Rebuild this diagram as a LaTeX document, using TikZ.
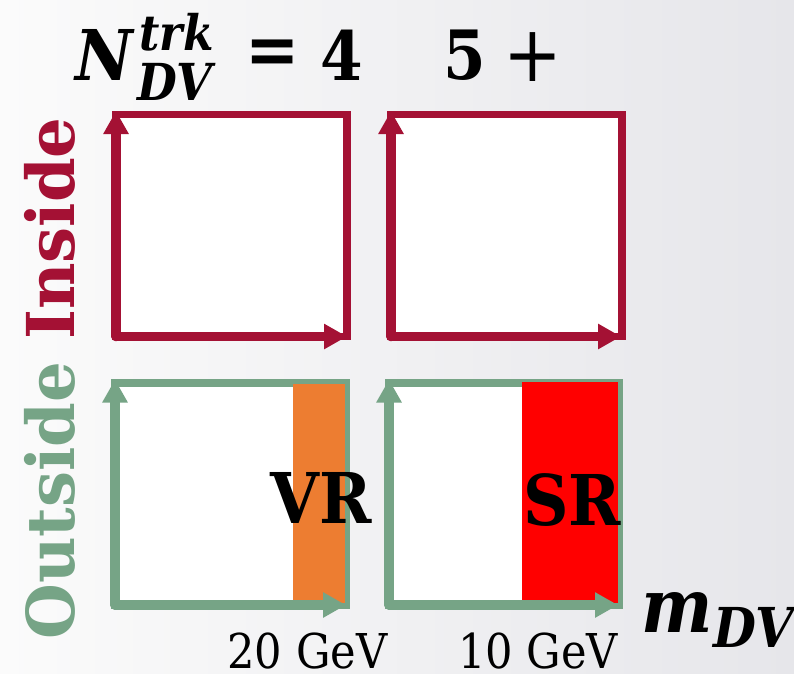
\documentclass[tikz,border=0pt]{standalone}
\usepackage{fontspec}
\usetikzlibrary{arrows.meta}
\newfontfamily\cam{DejaVu Serif}[FakeStretch=0.9]
\newfontfamily\camw{DejaVu Serif}[FakeStretch=0.97]
\definecolor{crim}{RGB}{164,17,52}
\definecolor{sage}{RGB}{118,164,134}
\definecolor{orng}{RGB}{237,125,49}
\definecolor{bgl}{RGB}{251,251,251}
\definecolor{bgr}{RGB}{230,230,234}
\tikzset{
  frame/.style={draw=#1, line width=7.5pt, fill=white},
  axis/.style={draw=#1, line width=9.5pt, line cap=round, -{Triangle[length=23pt,width=24pt]}},
  lbl/.style={inner sep=0pt, anchor=base},
  rg/.style={font=\cam\fontsize{#1}{#1}\selectfont},
  bd/.style={font=\cam\bfseries\fontsize{#1}{#1}\selectfont},
  bi/.style={font=\cam\bfseries\itshape\fontsize{#1}{#1}\selectfont},
}
\begin{document}
\begin{tikzpicture}[x=1pt,y=-1pt]
\useasboundingbox (0,0) rectangle (794,673);
\shade[left color=bgl, right color=bgr] (0,0) rectangle (794,673);
% top-left box (inside, 4)
\path[frame=crim] (116,114.5) rectangle (347,336.5);
\draw[axis=crim] (116,336.5) -- (116,111);
\draw[axis=crim] (116,336.5) -- (347,336.5);
% top-right box (inside, 5+)
\path[frame=crim] (391,114.5) rectangle (622,336.5);
\draw[axis=crim] (391,336.5) -- (391,111);
\draw[axis=crim] (391,336.5) -- (621,336.5);
% bottom-left box (outside, 4)
\path[frame=sage] (115,383) rectangle (346.5,605);
\fill[orng] (293,383.5) rectangle (345,603);
\draw[axis=sage] (115,605) -- (115,379.5);
\draw[axis=sage] (115,605) -- (346,605);
% bottom-right box (outside, 5+)
\path[frame=sage] (389,383) rectangle (619,605);
\fill[red] (521.7,381.7) rectangle (618.3,602.7);
\draw[axis=sage] (389,605) -- (389,379.5);
\draw[axis=sage] (389,605) -- (618,605);
% region labels
\node[lbl, bd=70] (vr) at (321,523) {VR};
\node[lbl, bd=70] (sr) at (572,525) {SR};
% axis values
\node[lbl, rg=48] (v20) at (307.5,668) {20 GeV};
\node[lbl, rg=48] (v10) at (538,668) {10 GeV};
% m_DV
\node[lbl, bi=75] (m) at (677.5,632) {m};
\node[lbl, bi=55] (mdv) at (753.5,647) {DV};
% title
\node[lbl, bi=70] (n) at (104,80) {N};
\node[lbl, bi=49] (trk) at (176.5,50) {trk};
\node[lbl, bi=51] (ndv) at (175,100) {DV};
\node[inner sep=0pt, bd=72] (eq) at (272.5,57.5) {=};
\node[lbl, bd=68] (four) at (342,80) {4};
\node[lbl, bd=68] (five) at (465,79) {5};
\node[inner sep=0pt, rg=78] (plus) at (533,57.5) {+};
% side label
\node[lbl, rotate=90, font=\camw\bfseries\fontsize{66}{66}\selectfont] (side) at (74,378.5) {\textcolor{sage}{Outside} \textcolor{crim}{Inside}};
\end{tikzpicture}
\end{document}
